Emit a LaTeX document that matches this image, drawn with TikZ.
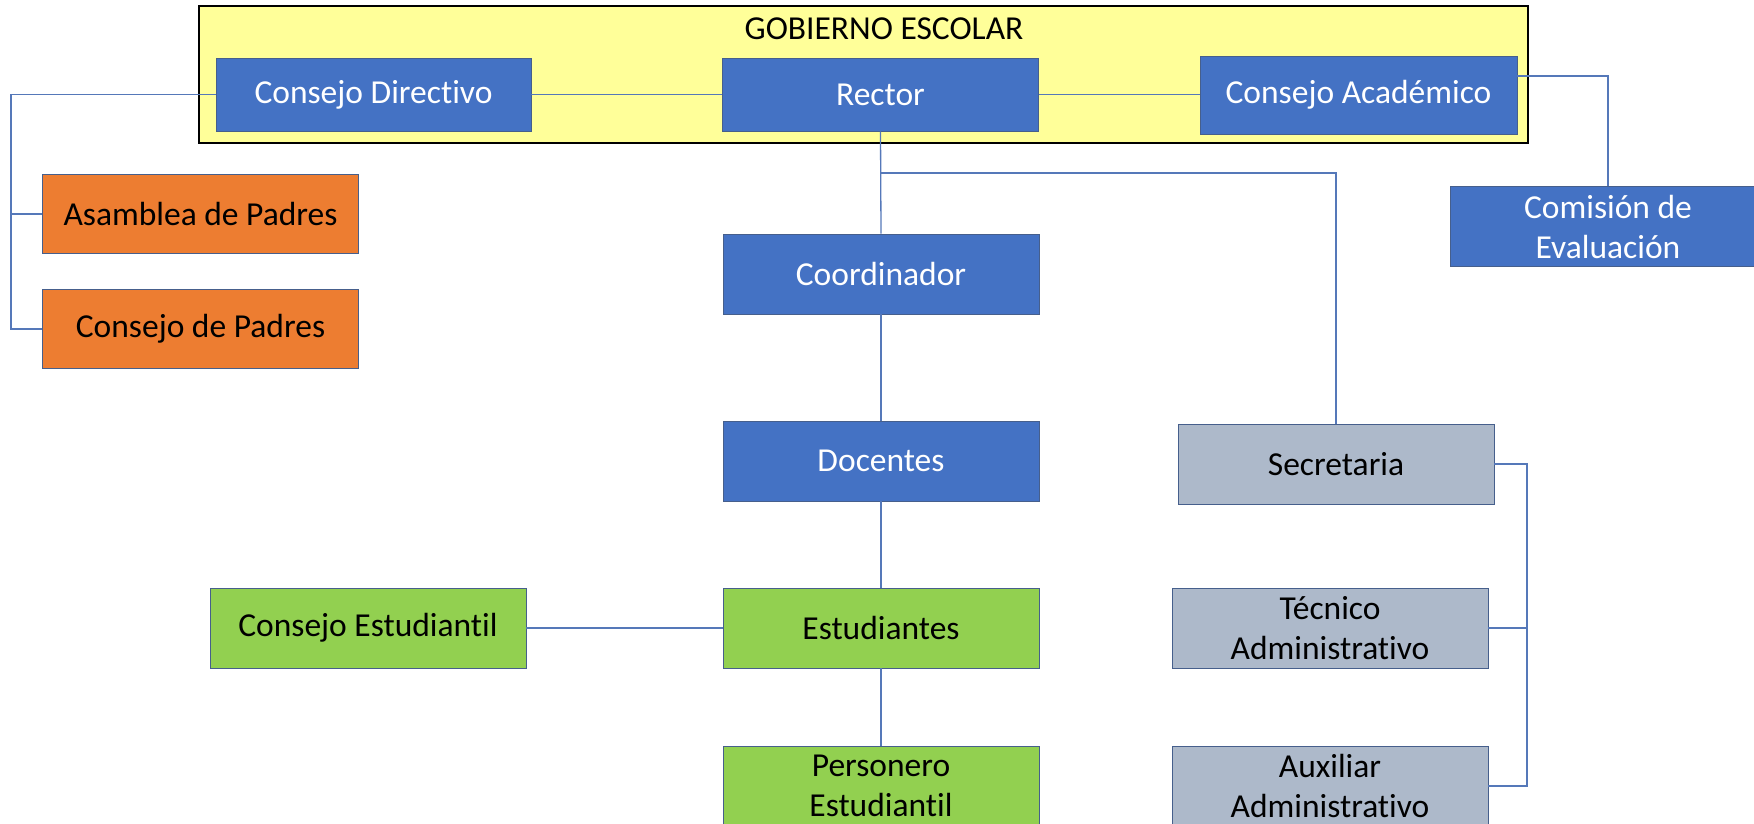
\documentclass[tikz,border=0pt]{standalone}
\usepackage{fontspec}
\setmainfont{Carlito}[Ligatures=NoCommon]
\definecolor{oblue}{HTML}{4472C4}
\definecolor{oorange}{HTML}{ED7D31}
\definecolor{ogreen}{HTML}{92D050}
\definecolor{ogray}{HTML}{ADB9CA}
\definecolor{oyellow}{HTML}{FFFF99}
\definecolor{edge}{RGB}{70,95,140}
\definecolor{conn}{RGB}{85,120,185}
\tikzset{
  box/.style={draw=edge, line width=0.9pt, minimum width=316pt, minimum height=80pt,
    inner sep=0pt, align=center, font=\fontsize{33.5}{40}\selectfont},
  bluebox/.style={box, fill=oblue, text=white},
  orangebox/.style={box, fill=oorange, text=black},
  greenbox/.style={box, fill=ogreen, text=black},
  graybox/.style={box, fill=ogray, text=black},
  conn/.style={draw=conn, line width=1.3pt},
}
\begin{document}
\begin{tikzpicture}[x=1pt, y=-1pt]
\clip (0,0) rectangle (1754,823);
\fill[white] (0,0) rectangle (1754,823);
% container
\node[draw=black, line width=1.5pt, fill=oyellow, minimum width=1329pt, minimum height=137pt, inner sep=0pt] (gob) at (863.5,74.5) {};
\node[font=\fontsize{33.5}{40}\selectfont, inner sep=0pt] (title) at (884,29) {GOBIERNO ESCOLAR};
% nodes
\node[bluebox, minimum height=73pt, minimum width=315pt] (cd) at (373.5,94.5) {Consejo Directivo};
\node[bluebox, minimum height=73pt] (rector) at (880.5,94.5) {Rector};
\node[bluebox, minimum height=78pt, minimum width=317pt] (ca) at (1358.5,95) {Consejo Académico};
\node[bluebox] (coord) at (881,274) {Coordinador};
\node[bluebox] (doc) at (881,461) {Docentes};
\node[greenbox] (est) at (881,628) {Estudiantes};
\node[greenbox] (pers) at (881,786) {Personero\\Estudiantil};
\node[greenbox] (ces) at (368,628) {Consejo Estudiantil};
\node[orangebox, minimum height=79pt] (asam) at (200.5,214) {Asamblea de Padres};
\node[orangebox, minimum height=79pt] (cpad) at (200.5,329) {Consejo de Padres};
\node[bluebox] (com) at (1608,226.5) {Comisión de\\Evaluación};
\node[graybox] (sec) at (1336,464) {Secretaria};
\node[graybox] (tec) at (1330,628) {Técnico\\Administrativo};
\node[graybox] (aux) at (1330,786) {Auxiliar\\Administrativo};
% helper coordinates
\coordinate (lx) at (11,0);
\coordinate (rx) at (1527,0);
\coordinate (by) at (0,173);
% connectors
\draw[conn] (cd.west) -- (cd.west -| lx) |- (cpad.west);
\draw[conn] (lx |- asam.west) -- (asam.west);
\draw[conn] (cd.east) -- (rector.west);
\draw[conn] (rector.east) -- (rector.east -| ca.west);
\draw[conn] ([yshift=19pt]ca.east) -| (com.north);
\draw[conn] (rector.south) -- (coord.north);
\draw[conn] (rector.south |- by) -| (sec.north);
\draw[conn] (coord.south) -- (doc.north);
\draw[conn] (doc.south) -- (est.north);
\draw[conn] (est.south) -- (pers.north);
\draw[conn] (ces.east) -- (est.west);
\draw[conn] (sec.east) -| (rx |- aux.east) -- (aux.east);
\draw[conn] (tec.east) -- (tec.east -| rx);
\end{tikzpicture}
\end{document}
